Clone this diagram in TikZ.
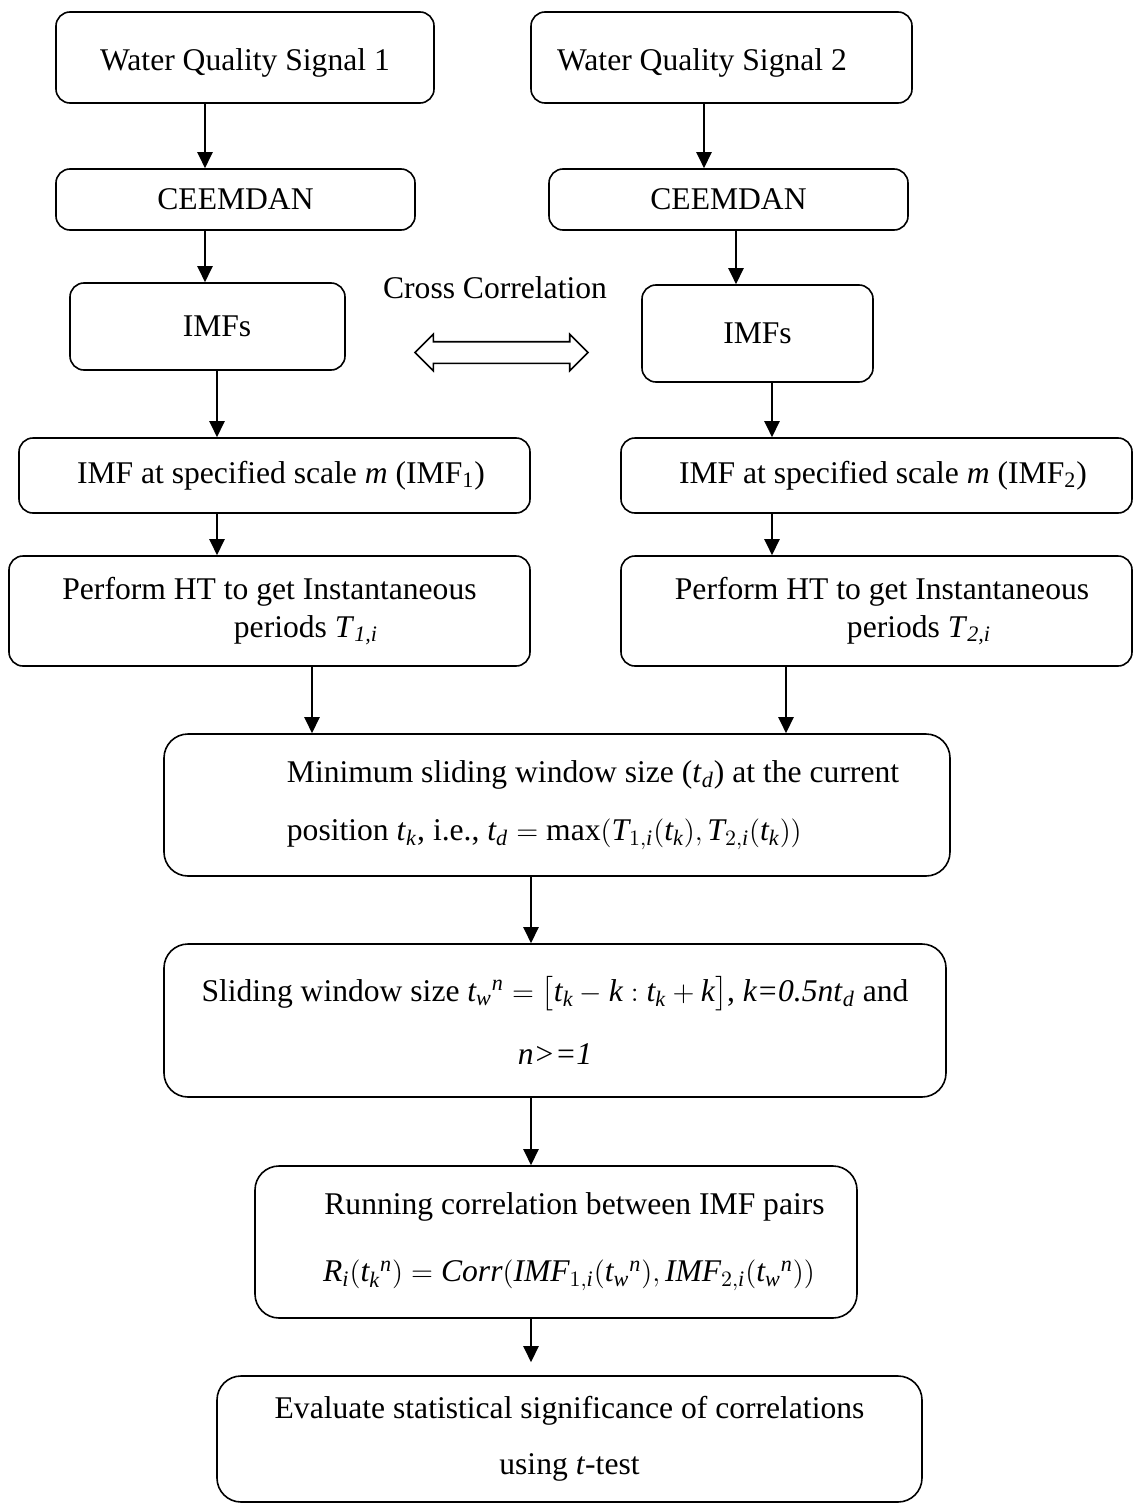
\documentclass[tikz,border=0pt]{standalone}
\usepackage{amsmath}
\usepackage{fontspec}
\setmainfont{Liberation Serif}
\usetikzlibrary{arrows.meta,shapes.arrows}

\newcommand{\fsz}{\fontsize{15.8pt}{19pt}\selectfont}
\newcommand{\vi}[1]{\textit{#1}}

\tikzset{
  box/.style={draw, line width=0.8pt, rounded corners=7pt, inner sep=0pt, align=center, font=\fsz},
  bigbox/.style={box, rounded corners=12pt},
  arr/.style={line width=1.2pt, -{Triangle[width=7.5pt,length=8pt]}}
}

\begin{document}
\begin{tikzpicture}[x=0.5pt,y=-0.5pt]
	\useasboundingbox (0,0) rectangle (1132,1504);
	
	% left branch
	\node[box, minimum width=189pt, minimum height=45.5pt] (wqs1) at (245,57.5) {\raisebox{-2.5pt}[11pt][3pt]{Water Quality Signal 1}};
	\node[box, minimum width=179.5pt, minimum height=30.5pt] (ceem1) at (235.5,199.5) {CEEMDAN};
	\node[box, minimum width=137.5pt, minimum height=43.5pt] (imfs1) at (207.5,326.5) {\hspace*{9.5pt}IMFs};
	\node[box, minimum width=255.5pt, minimum height=37.5pt] (imf1) at (274.5,475.5) {\hspace*{6.5pt}IMF at specified scale \vi{m} (IMF\textsubscript{1})};
	\node[box, minimum width=260.5pt, minimum height=55pt] (ht1) at (269.5,611) {Perform HT to get Instantaneous\\ \hspace*{36.5pt}periods \vi{T}\textsubscript{\vi{1,i}}};
	
	% right branch
	\node[box, minimum width=190.5pt, minimum height=45.5pt] (wqs2) at (721.5,57.5) {\hspace*{-19.5pt}\raisebox{-2.5pt}[11pt][3pt]{Water Quality Signal 2}};
	\node[box, minimum width=179.5pt, minimum height=30.5pt] (ceem2) at (728.5,199.5) {CEEMDAN};
	\node[box, minimum width=115.5pt, minimum height=48.5pt] (imfs2) at (757.5,333.5) {IMFs};
	\node[box, minimum width=255.5pt, minimum height=37.5pt] (imf2) at (876.5,475.5) {\hspace*{6.5pt}IMF at specified scale \vi{m} (IMF\textsubscript{2})};
	\node[box, minimum width=255.5pt, minimum height=55pt] (ht2) at (876.5,611) {\hspace*{5.5pt}Perform HT to get Instantaneous\\ \hspace*{42.5pt}periods \vi{T}\textsubscript{\vi{2,i}}};
	
	% cross correlation
	\node[font=\fsz, inner sep=0pt] (cclab) at (495,288) {Cross Correlation};
	\node[double arrow, draw, line width=0.8pt, minimum height=86.5pt, minimum width=17.5pt,
	      inner xsep=0pt, inner ysep=5pt, double arrow head extend=3.75pt] (xcorr) at (501.5,352.5) {};
	
	% common part
	\node[bigbox, minimum width=393pt, minimum height=71pt, align=left] (minwin) at (557,805)
	  {\hspace*{36pt}Minimum sliding window size (\vi{t}\textsubscript{\vi{d}}) at the current\\[10pt]
	   \hspace*{36pt}position \vi{t}\textsubscript{\vi{k}}, i.e., $\vi{t}_{\vi{d}} = \textup{max}(\vi{T}_{1,\vi{i}}(\vi{t}_{\vi{k}}),\vi{T}_{2,\vi{i}}(\vi{t}_{\vi{k}}))$};
	\node[bigbox, minimum width=391pt, minimum height=76.5pt] (slide) at (555,1020.5)
	  {Sliding window size $\vi{t}_{\vi{w}}{}^{\vi{n}} = \bigl[\vi{t}_{\vi{k}} - \vi{k} : \vi{t}_{\vi{k}} + \vi{k}\bigr]$, \vi{k=0.5nt}\textsubscript{\vi{d}} and\\[12.5pt]
	   \vi{n>=1}};
	\node[bigbox, minimum width=301pt, minimum height=76pt] (run) at (556,1242)
	  {\hspace*{18.5pt}Running correlation between IMF pairs\\[14.5pt]
	   \hspace*{13pt}$\vi{R}_{\vi{i}}(\vi{t}_{\vi{k}}{}^{\vi{n}}) = \vi{Corr}(\vi{IMF}_{1,\vi{i}}(\vi{t}_{\vi{w}}{}^{\vi{n}}),\vi{IMF}_{2,\vi{i}}(\vi{t}_{\vi{w}}{}^{\vi{n}}))$};
	\node[bigbox, minimum width=352.5pt, minimum height=63pt] (eval) at (569.5,1439)
	  {Evaluate statistical significance of correlations\\[9pt]
	   using \vi{t}-test};
	
	% arrows
	\draw[arr] ([xshift=-20pt]wqs1.south) coordinate (a1) -- (a1 |- ceem1.north);
	\draw[arr] ([xshift=-15.25pt]ceem1.south) coordinate (a2) -- (a2 |- imfs1.north);
	\draw[arr] ([xshift=4.75pt]imfs1.south) coordinate (a3) -- (a3 |- imf1.north);
	\draw[arr] ([xshift=-28.75pt]imf1.south) coordinate (a4) -- (a4 |- ht1.north);
	\draw[arr] ([xshift=21.25pt]ht1.south) coordinate (a5) -- (a5 |- minwin.north);
	
	\draw[arr] ([xshift=-8.75pt]wqs2.south) coordinate (b1) -- (b1 |- ceem2.north);
	\draw[arr] ([xshift=3.75pt]ceem2.south) coordinate (b2) -- (b2 |- imfs2.north);
	\draw[arr] ([xshift=7.25pt]imfs2.south) coordinate (b3) -- (b3 |- imf2.north);
	\draw[arr] ([xshift=-52.25pt]imf2.south) coordinate (b4) -- (b4 |- ht2.north);
	\draw[arr] ([xshift=-45.25pt]ht2.south) coordinate (b5) -- (b5 |- minwin.north);
	
	\draw[arr] ([xshift=-13pt]minwin.south) coordinate (c1) -- (c1 |- slide.north);
	\draw[arr] ([xshift=-12pt]slide.south) coordinate (c2) -- (c2 |- run.north);
	\draw[arr, shorten >=6.5pt] ([xshift=-12.5pt]run.south) coordinate (c3) -- (c3 |- eval.north);
\end{tikzpicture}
\end{document}
